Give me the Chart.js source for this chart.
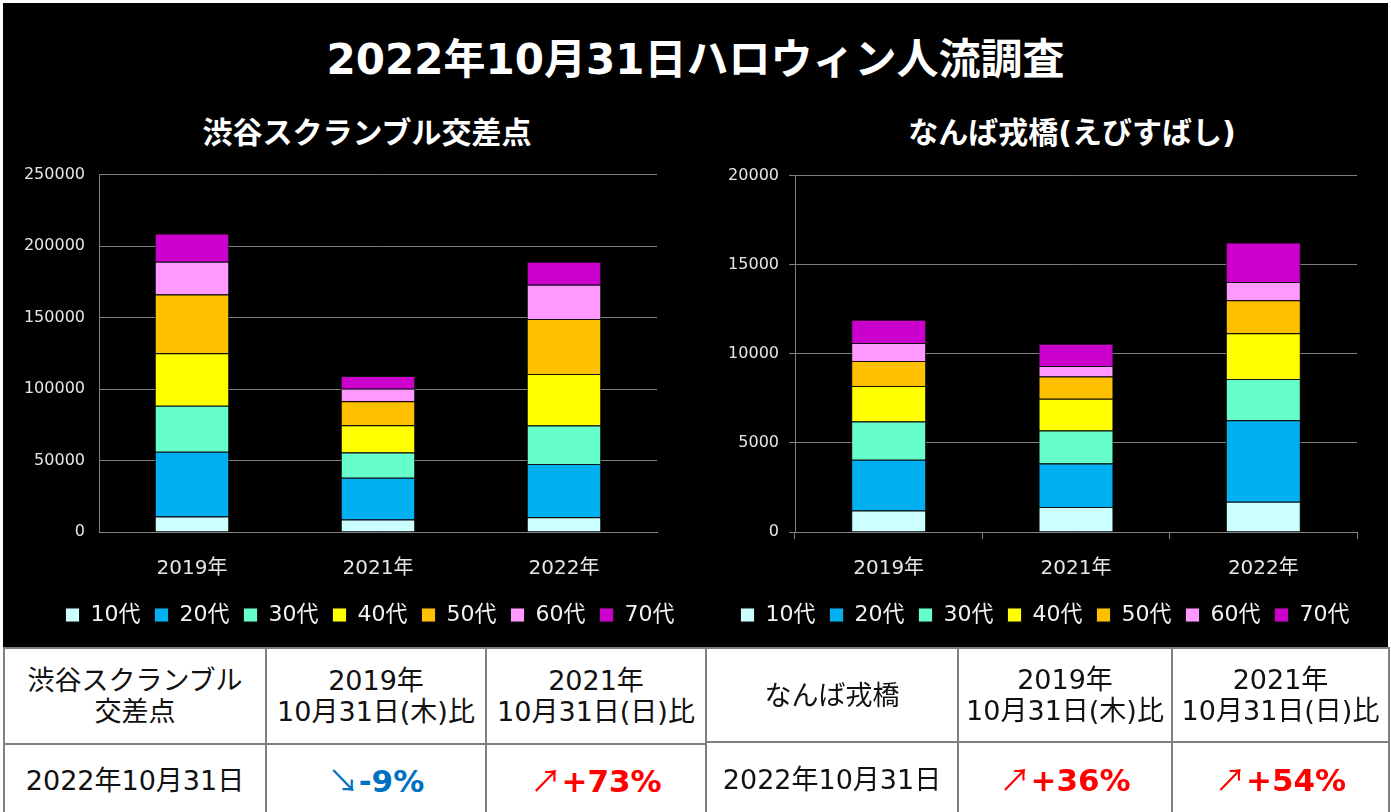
<!DOCTYPE html>
<html lang="ja">
<head>
<meta charset="UTF-8">
<title>2022年10月31日ハロウィン人流調査</title>
<script src="https://cdn.jsdelivr.net/npm/chart.js"></script>
<style>
  body { margin: 0; background: #fff; font-family: "DejaVu Sans", "Noto Sans CJK JP", sans-serif; }
  .page { position: relative; width: 1391px; height: 812px; overflow: hidden; }
  .board { position: absolute; left: 3px; top: 3px; width: 1385px; height: 644px; background: #000; }
  .title { position: absolute; left: 0; top: 34px; width: 1391px; margin: 0; text-align: center;
           color: #fff; font-size: 42px; line-height: 52px; font-weight: bold; }
  .sub { position: absolute; top: 115px; width: 400px; text-align: center; color: #fff;
         font-size: 30px; line-height: 36px; font-weight: bold; }
  canvas { position: absolute; }
  table { position: absolute; border-collapse: collapse; table-layout: fixed; }
  td { border: 2px solid #7f7f7f; text-align: center; vertical-align: middle; padding: 0;
       font-size: 27px; line-height: 31px; color: #111; }
  .down { color: #0070c0; font-weight: bold; font-size: 31px; }
  .up { color: #ff0000; font-weight: bold; font-size: 31px; }
  .arrow { font-family: "Noto Sans CJK JP", sans-serif; font-weight: normal; }
</style>
</head>
<body>
<div class="page">
  <div class="board"></div>
  <div class="title">2022年10月31日ハロウィン人流調査</div>
  <div class="sub" style="left:167px">渋谷スクランブル交差点</div>
  <div class="sub" style="left:872px">なんば戎橋(えびすばし)</div>

  <canvas id="shibuya" width="728" height="493" style="left:3px; top:151px"></canvas>
  <canvas id="namba" width="684" height="488" style="left:703px; top:156px"></canvas>

  <table style="left:3px; top:647px; width:702px">
    <colgroup><col style="width:262px"><col style="width:220px"><col style="width:220px"></colgroup>
    <tr style="height:96px">
      <td>渋谷スクランブル<br>交差点</td>
      <td>2019年<br>10月31日(木)比</td>
      <td>2021年<br>10月31日(日)比</td>
    </tr>
    <tr style="height:72px">
      <td>2022年10月31日</td>
      <td class="down"><span class="arrow">↘</span>-9%</td>
      <td class="up"><span class="arrow">↗</span>+73%</td>
    </tr>
  </table>
  <table style="left:705px; top:647px; width:683px">
    <colgroup><col style="width:252px"><col style="width:214px"><col style="width:217px"></colgroup>
    <tr style="height:94px">
      <td>なんば戎橋</td>
      <td>2019年<br>10月31日(木)比</td>
      <td>2021年<br>10月31日(日)比</td>
    </tr>
    <tr style="height:74px">
      <td>2022年10月31日</td>
      <td class="up"><span class="arrow">↗</span>+36%</td>
      <td class="up"><span class="arrow">↗</span>+54%</td>
    </tr>
  </table>
</div>

<script>
    const years = ['2019年', '2021年', '2022年'];
    const ageGroups = ['10代', '20代', '30代', '40代', '50代', '60代', '70代'];
    const ageColors = ['#ccffff', '#00b0f0', '#66ffcc', '#ffff00', '#ffc000', '#ff99ff', '#cc00cc'];

    // 渋谷スクランブル交差点 (per age group: 2019, 2021, 2022)
    const shibuya10 = [10800, 8700, 10300];
    const shibuya20 = [45400, 29300, 37300];
    const shibuya30 = [32100, 17600, 26900];
    const shibuya40 = [36800, 19000, 36100];
    const shibuya50 = [41000, 16900, 38400];
    const shibuya60 = [23000, 8700, 23900];
    const shibuya70 = [19700, 8900, 16200];

    // なんば戎橋
    const namba10 = [1200, 1400, 1700];
    const namba20 = [2850, 2440, 4570];
    const namba30 = [2150, 1860, 2320];
    const namba40 = [2000, 1780, 2570];
    const namba50 = [1400, 1240, 1840];
    const namba60 = [1000, 600, 1030];
    const namba70 = [1310, 1240, 2210];

    const shibuyaTicks = [0, 50000, 100000, 150000, 200000, 250000];
    const nambaTicks = [0, 5000, 10000, 15000, 20000];

    const jpFont = '"DejaVu Sans", "Noto Sans CJK JP", sans-serif';
    const gridGray = '#808080';

    // moves the legend sideways so it sits where the original one does
    const legendShift = {
        id: 'legendShift',
        afterLayout(chart, args, opts) {
            const lg = chart.legend;
            lg.left += opts.dx || 0;
            lg.right += opts.dx || 0;
        }
    };

    function buildDatasets(series) {
        return series.map((data, i) => ({
            label: ageGroups[i],
            data: data,
            backgroundColor: ageColors[i],
            borderColor: '#111',
            borderWidth: 1,
            barPercentage: 0.4,
            categoryPercentage: 1.0,
        }));
    }

    function makeChart(id, series, ticks, opts) {
        return new Chart(document.getElementById(id), {
            type: 'bar',
            data: { labels: years, datasets: buildDatasets(series) },
            plugins: [legendShift],
            options: {
                responsive: false,
                animation: false,
                layout: { padding: { left: 0, right: opts.padRight, top: 0, bottom: 8 } },
                plugins: {
                    tooltip: { enabled: false },
                    legendShift: { dx: opts.legendDx },
                    legend: {
                        position: 'bottom',
                        labels: {
                            color: '#f2f2f2',
                            font: { family: jpFont, size: 22 },
                            boxWidth: 14,
                            boxHeight: 14,
                            padding: 14,
                        }
                    }
                },
                scales: {
                    x: {
                        stacked: true,
                        afterFit: (scale) => { scale.height -= opts.xTrim; },
                        grid: {
                            display: opts.xTicks,
                            drawOnChartArea: false,
                            tickLength: 7,
                            color: gridGray,
                        },
                        border: { color: gridGray },
                        ticks: {
                            color: '#e6e6e6',
                            font: { family: jpFont, size: 20 },
                            padding: 18,
                        }
                    },
                    y: {
                        stacked: true,
                        min: 0,
                        max: ticks[ticks.length - 1],
                        afterBuildTicks: (scale) => { scale.ticks = ticks.map(v => ({ value: v })); },
                        afterFit: (scale) => { scale.width = opts.axisLeft; },
                        grid: {
                            color: gridGray,
                            drawTicks: opts.xTicks,
                            tickLength: 6,
                        },
                        border: { display: true, color: gridGray },
                        ticks: {
                            color: '#e6e6e6',
                            font: { family: jpFont, size: 16 },
                            padding: opts.xTicks ? 10 : 14,
                            callback: (v) => String(v),
                        }
                    }
                }
            }
        });
    }

    makeChart('shibuya',
        [shibuya10, shibuya20, shibuya30, shibuya40, shibuya50, shibuya60, shibuya70],
        shibuyaTicks, { axisLeft: 96, padRight: 74, xTrim: 9, xTicks: false, legendDx: 40 });

    makeChart('namba',
        [namba10, namba20, namba30, namba40, namba50, namba60, namba70],
        nambaTicks, { axisLeft: 92, padRight: 30, xTrim: 9, xTicks: true, legendDx: 15 });
</script>
</body>
</html>
